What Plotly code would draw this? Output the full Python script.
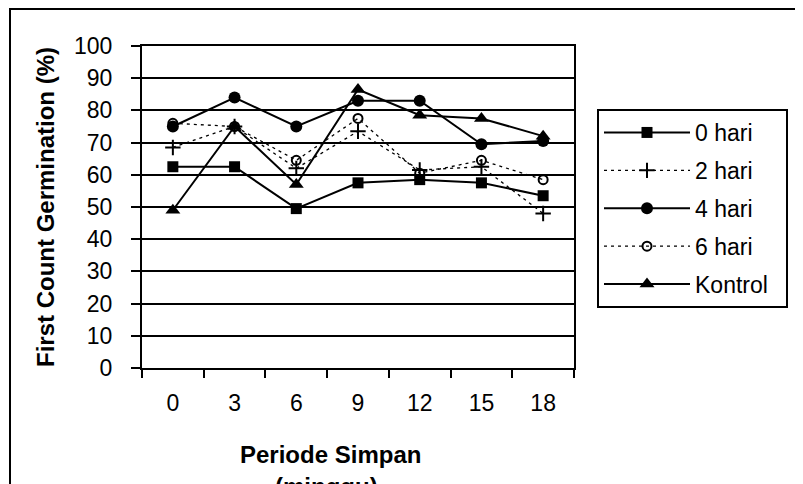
import plotly.graph_objects as go

periode = ["0", "3", "6", "9", "12", "15", "18"]
hari_0 = [62.5, 62.5, 49.5, 57.5, 58.5, 57.5, 53.5]
hari_2 = [68.5, 75, 62, 73.5, 61.5, 62.5, 48]
hari_4 = [75, 84, 75, 83, 83, 69.5, 70.5]
hari_6 = [76, 75, 64.5, 77.5, 60.5, 64.5, 58.5]
kontrol = [49, 75, 57, 86.5, 78.5, 77.5, 72]
y_ticks = list(range(0, 101, 10))

OFF = 8  # page body margin
W, H = 803 - OFF, 484 - OFF
L, R, T, B = 142 - OFF, 574 - OFF, 46 - OFF, 368 - OFF
pw, ph = R - L, B - T

def px_x(x):
    return (x - OFF - L) / pw

def px_y(y):
    return (B - (y - OFF)) / ph

FONT = "Liberation Sans, Arial, sans-serif"
PADR = "\u00a0\u00a0"

fig = go.Figure()
series = [
    ("0 hari", hari_0, "solid", 2, dict(symbol="square", size=11, color="black")),
    ("2 hari", hari_2, "3px,4px", 1.3, dict(symbol="cross-thin-open", size=11, color="black", line=dict(width=2, color="black"))),
    ("4 hari", hari_4, "solid", 2, dict(symbol="circle", size=12, color="black")),
    ("6 hari", hari_6, "3px,4px", 1.3, dict(symbol="circle-open", size=9, color="black", line=dict(width=2, color="black"))),
    ("Kontrol", kontrol, "solid", 2, dict(symbol="triangle-up", size=13, color="black")),
]
for name, vals, dash, lw, mk in series:
    fig.add_trace(go.Scatter(
        x=periode, y=vals, name=name + PADR, mode="lines+markers",
        line=dict(color="black", width=lw, dash=dash),
        marker=mk, legendgroup=name,
    ))

fig.update_layout(
    width=W, height=H,
    margin=dict(l=L, r=W - R, t=T, b=H - B, pad=0),
    paper_bgcolor="white", plot_bgcolor="white",
    font=dict(family=FONT, size=24, color="black"),
    showlegend=True,
    legend=dict(
        x=px_x(597), y=px_y(109), xanchor="left", yanchor="top",
        bordercolor="black", borderwidth=2, bgcolor="white",
        font=dict(family=FONT, size=23, color="black"),
        tracegroupgap=5, traceorder="grouped", itemwidth=86,
    ),
    xaxis=dict(
        type="category", range=[-0.5, 6.5], tickson="boundaries",
        ticks="outside", ticklen=8, tickwidth=1.5, tickcolor="black",
        showgrid=False, showline=True, linecolor="black", linewidth=2,
        mirror=True, zeroline=False, tickfont=dict(size=23),
        ticklabelstandoff=13,
    ),
    yaxis=dict(
        range=[0, 100], tickvals=y_ticks, ticks="outside", ticklen=9,
        tickwidth=1.5, tickcolor="black", showgrid=True, gridcolor="black",
        gridwidth=1.5, showline=True, linecolor="black", linewidth=2,
        mirror=True, zeroline=False, tickfont=dict(size=23), ticklabelstandoff=14,
    ),
    annotations=[
        dict(text="<b>Periode Simpan</b>", xref="paper", yref="paper",
             x=px_x(330), y=px_y(454), xanchor="center", yanchor="middle",
             showarrow=False, font=dict(family=FONT, size=24)),
        dict(text="<b>(minggu)</b>", xref="paper", yref="paper",
             x=px_x(326), y=px_y(471), xanchor="center", yanchor="top",
             showarrow=False, font=dict(family=FONT, size=24)),
        dict(text="<b>First Count Germination (%)</b>", xref="paper", yref="paper",
             x=px_x(45), y=px_y(207), xanchor="center", yanchor="middle",
             textangle=-90, showarrow=False, font=dict(family=FONT, size=24)),
    ],
    shapes=[
        dict(type="rect", xref="paper", yref="paper",
             x0=px_x(10), x1=px_x(801), y0=px_y(500), y1=px_y(9),
             line=dict(color="black", width=2), layer="below"),
    ],
)

fig.write_html("out.html")
